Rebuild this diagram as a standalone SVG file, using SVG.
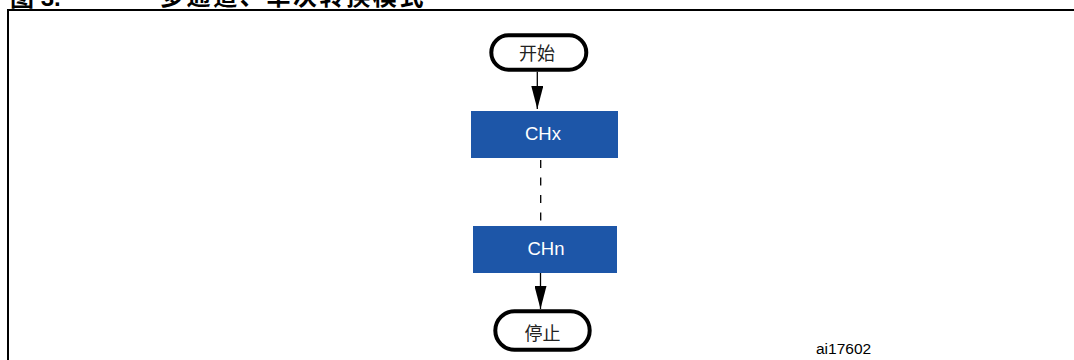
<svg xmlns="http://www.w3.org/2000/svg" width="1074" height="360" viewBox="0 0 1074 360">
<style>
.frame{stroke:#000;stroke-width:2;fill:none}
.pill{fill:#fff;stroke:#000;stroke-width:4}
.box{fill:#1d56a8}
.cj{font-family:"Noto Sans CJK SC","Liberation Sans",sans-serif;font-size:18px;fill:#222;text-anchor:middle}
.bt{font-family:"Liberation Sans",Arial,sans-serif;font-size:18.5px;fill:#fff;text-anchor:middle}
.title{font-family:"Liberation Sans","Noto Sans CJK SC",sans-serif;font-size:24px;font-weight:bold;fill:#000}
.titlecj{font-family:"Noto Sans CJK SC",sans-serif;font-size:24px;font-weight:bold;fill:#000;letter-spacing:2.6px}
.lbl{font-family:"Liberation Sans",Arial,sans-serif;font-size:15.5px;fill:#000}
.conn{stroke:#000;stroke-width:1.3;fill:none}
</style>
<defs>
<marker id="ah" markerUnits="userSpaceOnUse" markerWidth="23" markerHeight="12" refX="23" refY="6" orient="auto" viewBox="0 0 23 12">
<path d="M0,0 L23,6 L0,12 Z" fill="#000"/>
</marker>
</defs>
<text class="title" x="10" y="6">图 3.</text>
<text class="titlecj" x="160" y="5">多通道、单次转换模式</text>
<path class="frame" d="M8,360 V10 H1074"/>
<g id="start">
<rect class="pill" x="491.3" y="35.3" width="95" height="34.4" rx="17.2"/>
<text class="cj" x="537" y="60">开始</text>
</g>
<g id="chx">
<rect class="box" x="471" y="111" width="147" height="47"/>
<text class="bt" x="543" y="139.5">CHx</text>
</g>
<g id="chn">
<rect class="box" x="473" y="226" width="144" height="47"/>
<text class="bt" x="546" y="255">CHn</text>
</g>
<g id="stop">
<rect class="pill" x="495.3" y="311.3" width="94.4" height="38.4" rx="19.2"/>
<text class="cj" x="542.5" y="340">停止</text>
</g>
<text class="lbl" x="816" y="354.3">ai17602</text>
<g id="connectors">
<line class="conn" x1="537.3" y1="71.7" x2="537.3" y2="109" marker-end="url(#ah)"/>
<line class="conn" x1="540.7" y1="158" x2="540.7" y2="226" stroke-dasharray="8,9.5" stroke-dashoffset="-2"/>
<line class="conn" x1="540.5" y1="273" x2="540.5" y2="309" marker-end="url(#ah)"/>
</g>
</svg>
